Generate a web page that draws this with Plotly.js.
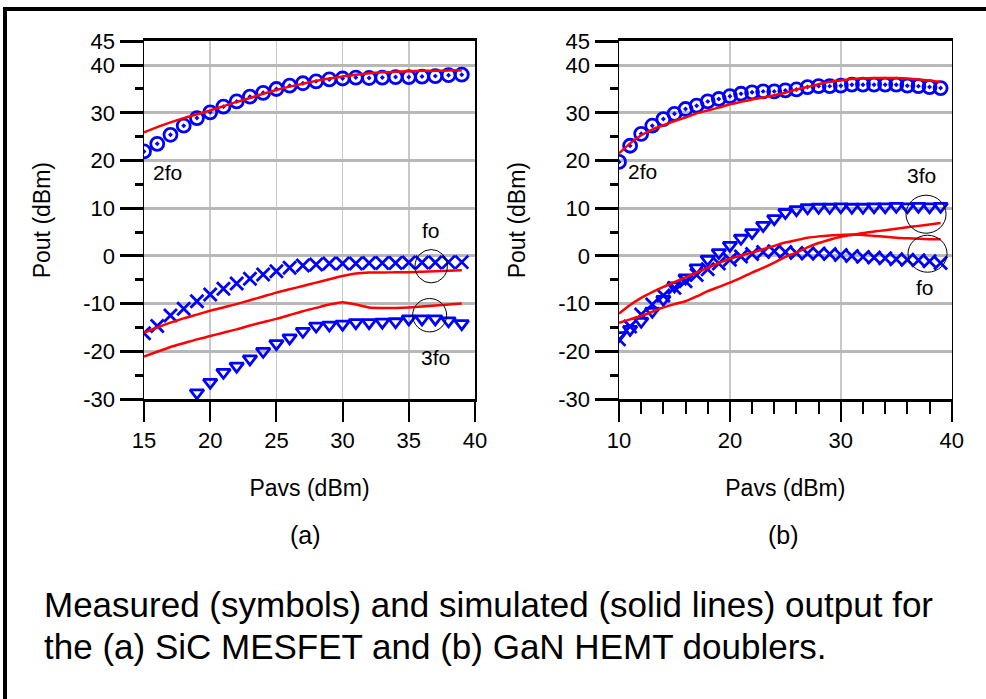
<!DOCTYPE html>
<html>
<head>
<meta charset="utf-8">
<script src="https://cdn.plot.ly/plotly-3.0.1.min.js"></script>
<style>html,body{margin:0;padding:0;background:#fff;}#chart{width:986px;height:699px;}</style>
</head>
<body>
<div id="chart"></div>
<script>
// ---------- (a) SiC MESFET ----------
const xA = [15,16,17,18,19,20,21,22,23,24,25,26,27,28,29,30,31,32,33,34,35,36,37,38,39];
const a2foMeas = [21.9,23.5,25.4,27.3,28.9,30.1,31.3,32.4,33.4,34.2,35.0,35.7,36.2,36.6,37.0,37.2,37.4,37.3,37.4,37.5,37.5,37.6,37.7,37.9,38.0];
const aFoMeas = [-16.2,-14.7,-12.5,-11.1,-9.5,-8.1,-6.9,-5.8,-4.8,-3.9,-3.2,-2.5,-2.0,-1.8,-1.6,-1.6,-1.6,-1.5,-1.5,-1.5,-1.4,-1.4,-1.4,-1.3,-1.3];
const xA3 = [19,20,21,22,23,24,25,26,27,28,29,30,31,32,33,34,35,36,37,38,39];
const a3foMeas = [-28.7,-26.5,-24.4,-23.1,-21.6,-20.0,-18.4,-17.2,-15.8,-14.7,-14.5,-14.3,-14.0,-14.0,-13.9,-13.8,-13.2,-13.2,-13.2,-13.6,-14.2];
const a2foSim = [25.9,27.0,28.0,28.9,29.7,30.5,31.4,32.3,33.1,34.0,34.8,35.5,36.1,36.7,37.2,37.6,38.0,38.3,38.5,38.6,38.7,38.8,38.8,38.9,38.9];
const aFoSim = [-16.1,-15.0,-14.0,-13.1,-12.3,-11.5,-10.8,-10.1,-9.3,-8.5,-7.7,-7.0,-6.3,-5.6,-4.9,-4.2,-3.7,-3.5,-3.5,-3.4,-3.4,-3.3,-3.2,-3.1,-3.0];
const a3foSim = [-21.1,-20.1,-19.1,-18.3,-17.5,-16.8,-16.1,-15.4,-14.6,-13.9,-13.2,-12.4,-11.6,-10.9,-10.2,-9.7,-10.2,-10.8,-10.9,-10.9,-10.8,-10.6,-10.4,-10.2,-10.0];

// ---------- (b) GaN HEMT ----------
const xB = [10,11,12,13,14,15,16,17,18,19,20,21,22,23,24,25,26,27,28,29,30,31,32,33,34,35,36,37,38,39];
const b2foMeas = [19.7,23.1,25.6,27.3,28.7,29.8,30.8,31.5,32.4,32.9,33.5,34.0,34.3,34.5,34.5,34.7,34.9,35.4,35.6,35.6,35.7,35.9,35.9,35.9,35.9,35.9,35.7,35.6,35.4,35.2];
const b3foMeas = [-16.7,-15.4,-13.7,-11.6,-9.1,-6.3,-4.6,-2.5,-0.7,0.7,2.2,3.7,4.9,6.4,7.8,9.1,9.7,10.1,10.2,10.2,10.3,10.2,10.2,10.3,10.3,10.4,10.3,10.4,10.3,10.4];
const bFoMeas = [-17.5,-14.8,-12.3,-10.2,-8.3,-6.7,-5.3,-4.0,-2.8,-1.6,-0.8,-0.1,0.4,0.8,1.0,0.8,0.6,0.5,0.5,0.4,0.2,0.0,-0.2,-0.35,-0.5,-0.7,-0.8,-0.9,-1.1,-1.5];
const b2foSim = [21.5,23.6,25.3,26.5,27.4,28.3,29.0,29.9,30.5,31.1,31.8,32.3,32.8,33.2,33.7,34.2,34.9,35.4,36.0,36.5,36.8,37.1,37.2,37.3,37.3,37.3,37.2,37.0,36.8,36.5];
const bFoSim = [-12.1,-10.3,-8.8,-7.6,-6.5,-5.5,-4.5,-3.5,-2.5,-1.5,-0.6,0.1,0.7,1.4,2.1,2.8,3.3,3.8,4.1,4.3,4.4,4.5,4.4,4.2,4.0,3.8,3.7,3.6,3.5,3.5];
const b3foSim = [-14.0,-13.3,-12.6,-11.7,-10.8,-10.1,-9.5,-8.5,-7.4,-6.5,-5.6,-4.6,-3.5,-2.5,-1.4,-0.2,0.7,1.8,2.7,3.4,4.0,4.4,4.8,5.1,5.4,5.7,6.0,6.3,6.6,6.9];

const yTickVals = [-30,-20,-10,0,10,20,30,40,45];
const yMinorVals = [-25,-15,-5,5,15,25,35];
const xTickValsA = [15,20,25,30,35,40];
const xTickValsB = [10,20,30,40];

const BLUE = '#0000ff', RED = '#ff0000';
function meas(x, y, sym, size, xa, ya) {
  return {x: x, y: y, type: 'scatter', mode: 'markers', xaxis: xa, yaxis: ya,
    marker: {symbol: sym, size: size, color: BLUE, line: {color: BLUE, width: 2.8}}, hoverinfo: 'skip'};
}
function sim(x, y, xa, ya) {
  return {x: x, y: y, type: 'scatter', mode: 'lines', xaxis: xa, yaxis: ya,
    line: {color: RED, width: 2.5, shape: 'spline', smoothing: 0.6}, hoverinfo: 'skip'};
}

const data = [
  meas(xA, a2foMeas, 'circle-open-dot', 13, 'x', 'y'),
  meas(xA, aFoMeas, 'x-thin-open', 13, 'x', 'y'),
  meas(xA3, a3foMeas, 'triangle-down-open', 12, 'x', 'y'),
  sim(xA, a2foSim, 'x', 'y'),
  sim(xA, aFoSim, 'x', 'y'),
  sim(xA, a3foSim, 'x', 'y'),
  meas(xB, b2foMeas, 'circle-open-dot', 13, 'x2', 'y2'),
  meas(xB, b3foMeas, 'triangle-down-open', 12, 'x2', 'y2'),
  meas(xB, bFoMeas, 'x-thin-open', 13, 'x2', 'y2'),
  sim(xB, b2foSim, 'x2', 'y2'),
  sim(xB, bFoSim, 'x2', 'y2'),
  sim(xB, b3foSim, 'x2', 'y2')
];

const W = 986, H = 699;
const FONT = 'Liberation Sans, Arial, Helvetica, sans-serif';
function xAxis(dom, range, tickvals, anchor, minor) {
  const ax = {domain: dom, range: range, tickvals: tickvals, ticktext: tickvals.map(String),
    ticks: 'outside', ticklen: 20, tickwidth: 2, tickcolor: '#000',
    showline: true, linewidth: 3, linecolor: '#000', mirror: true,
    showgrid: true, gridcolor: '#c8c8c8', gridwidth: 1.5, zeroline: false,
    tickfont: {size: 22}, anchor: anchor, fixedrange: true,
    title: {text: 'Pavs (dBm)', font: {size: 23}, standoff: 28}};
  if (minor) ax.minor = minor;
  return ax;
}
function yAxis(anchor) {
  return {domain: [1 - 399/H, 1 - 41.3/H], range: [-30, 45], tickvals: yTickVals, ticktext: yTickVals.map(String),
    ticks: 'outside', ticklen: 23, tickwidth: 3, tickcolor: '#000',
    minor: {tickvals: yMinorVals, ticks: 'outside', ticklen: 8, tickwidth: 3, tickcolor: '#000', showgrid: false},
    showline: true, linewidth: 1.5, linecolor: '#000', mirror: true,
    showgrid: true, gridcolor: '#b8b8b8', gridwidth: 3, zeroline: false,
    tickfont: {size: 22}, anchor: anchor, fixedrange: true,
    title: {text: 'Pout (dBm)', font: {size: 23}, standoff: 26}};
}

function circ(xr, yr, x0, x1, y0, y1) {
  return {type: 'circle', xref: xr, yref: yr, x0: x0, x1: x1, y0: y0, y1: y1, line: {color: '#000', width: 1}};
}
function lab(xr, yr, x, y, t) {
  return {xref: xr, yref: yr, x: x, y: y, text: t, showarrow: false, font: {size: 21}, xanchor: 'center', yanchor: 'middle'};
}

const layout = {
  width: W, height: H, margin: {l: 0, r: 0, t: 0, b: 0},
  paper_bgcolor: '#fff', plot_bgcolor: '#fff', showlegend: false,
  font: {family: FONT, color: '#000', size: 21},
  xaxis: xAxis([144/W, 475/W], [15, 40], xTickValsA, 'y'),
  yaxis: yAxis('x'),
  xaxis2: xAxis([619/W, 951.7/W], [10, 40], xTickValsB, 'y2',
    {tick0: 10, dtick: 2, ticks: 'outside', ticklen: 12, tickwidth: 2, tickcolor: '#000', showgrid: false}),
  yaxis2: yAxis('x2'),
  shapes: [
    {type: 'rect', xref: 'paper', yref: 'paper', x0: 5/W, x1: 1.02, y0: -0.02, y1: 1 - 9/H, line: {color: '#000', width: 4}},
    circ('x', 'y', 35.47, 37.91, -5.66, 1.34),
    circ('x', 'y', 35.29, 37.86, -15.93, -8.93),
    circ('x2', 'y2', 35.88, 39.49, 4.76, 12.73),
    circ('x2', 'y2', 36.06, 39.58, -3.42, 4.34)
  ],
  annotations: [
    lab('x', 'y', 16.8, 17.4, '2fo'),
    lab('x', 'y', 36.7, 5.3, 'fo'),
    lab('x', 'y', 37.0, -21.2, '3fo'),
    lab('x2', 'y2', 12.1, 17.7, '2fo'),
    lab('x2', 'y2', 37.3, 16.8, '3fo'),
    lab('x2', 'y2', 37.6, -6.6, 'fo'),
    {xref: 'paper', yref: 'paper', x: 305/W, y: 1 - 535/H, text: '(a)', showarrow: false, font: {size: 25}, xanchor: 'center', yanchor: 'middle'},
    {xref: 'paper', yref: 'paper', x: 783/W, y: 1 - 535/H, text: '(b)', showarrow: false, font: {size: 25}, xanchor: 'center', yanchor: 'middle'},
    {xref: 'paper', yref: 'paper', x: 42/W, y: 1 - 604/H, text: 'Measured (symbols) and simulated (solid lines) output for', showarrow: false, font: {size: 35}, xanchor: 'left', yanchor: 'middle'},
    {xref: 'paper', yref: 'paper', x: 42/W, y: 1 - 646/H, text: 'the (a) SiC MESFET and (b) GaN HEMT doublers.', showarrow: false, font: {size: 35}, xanchor: 'left', yanchor: 'middle'}
  ]
};

Plotly.newPlot('chart', data, layout, {displayModeBar: false, staticPlot: true});
</script>
</body>
</html>
